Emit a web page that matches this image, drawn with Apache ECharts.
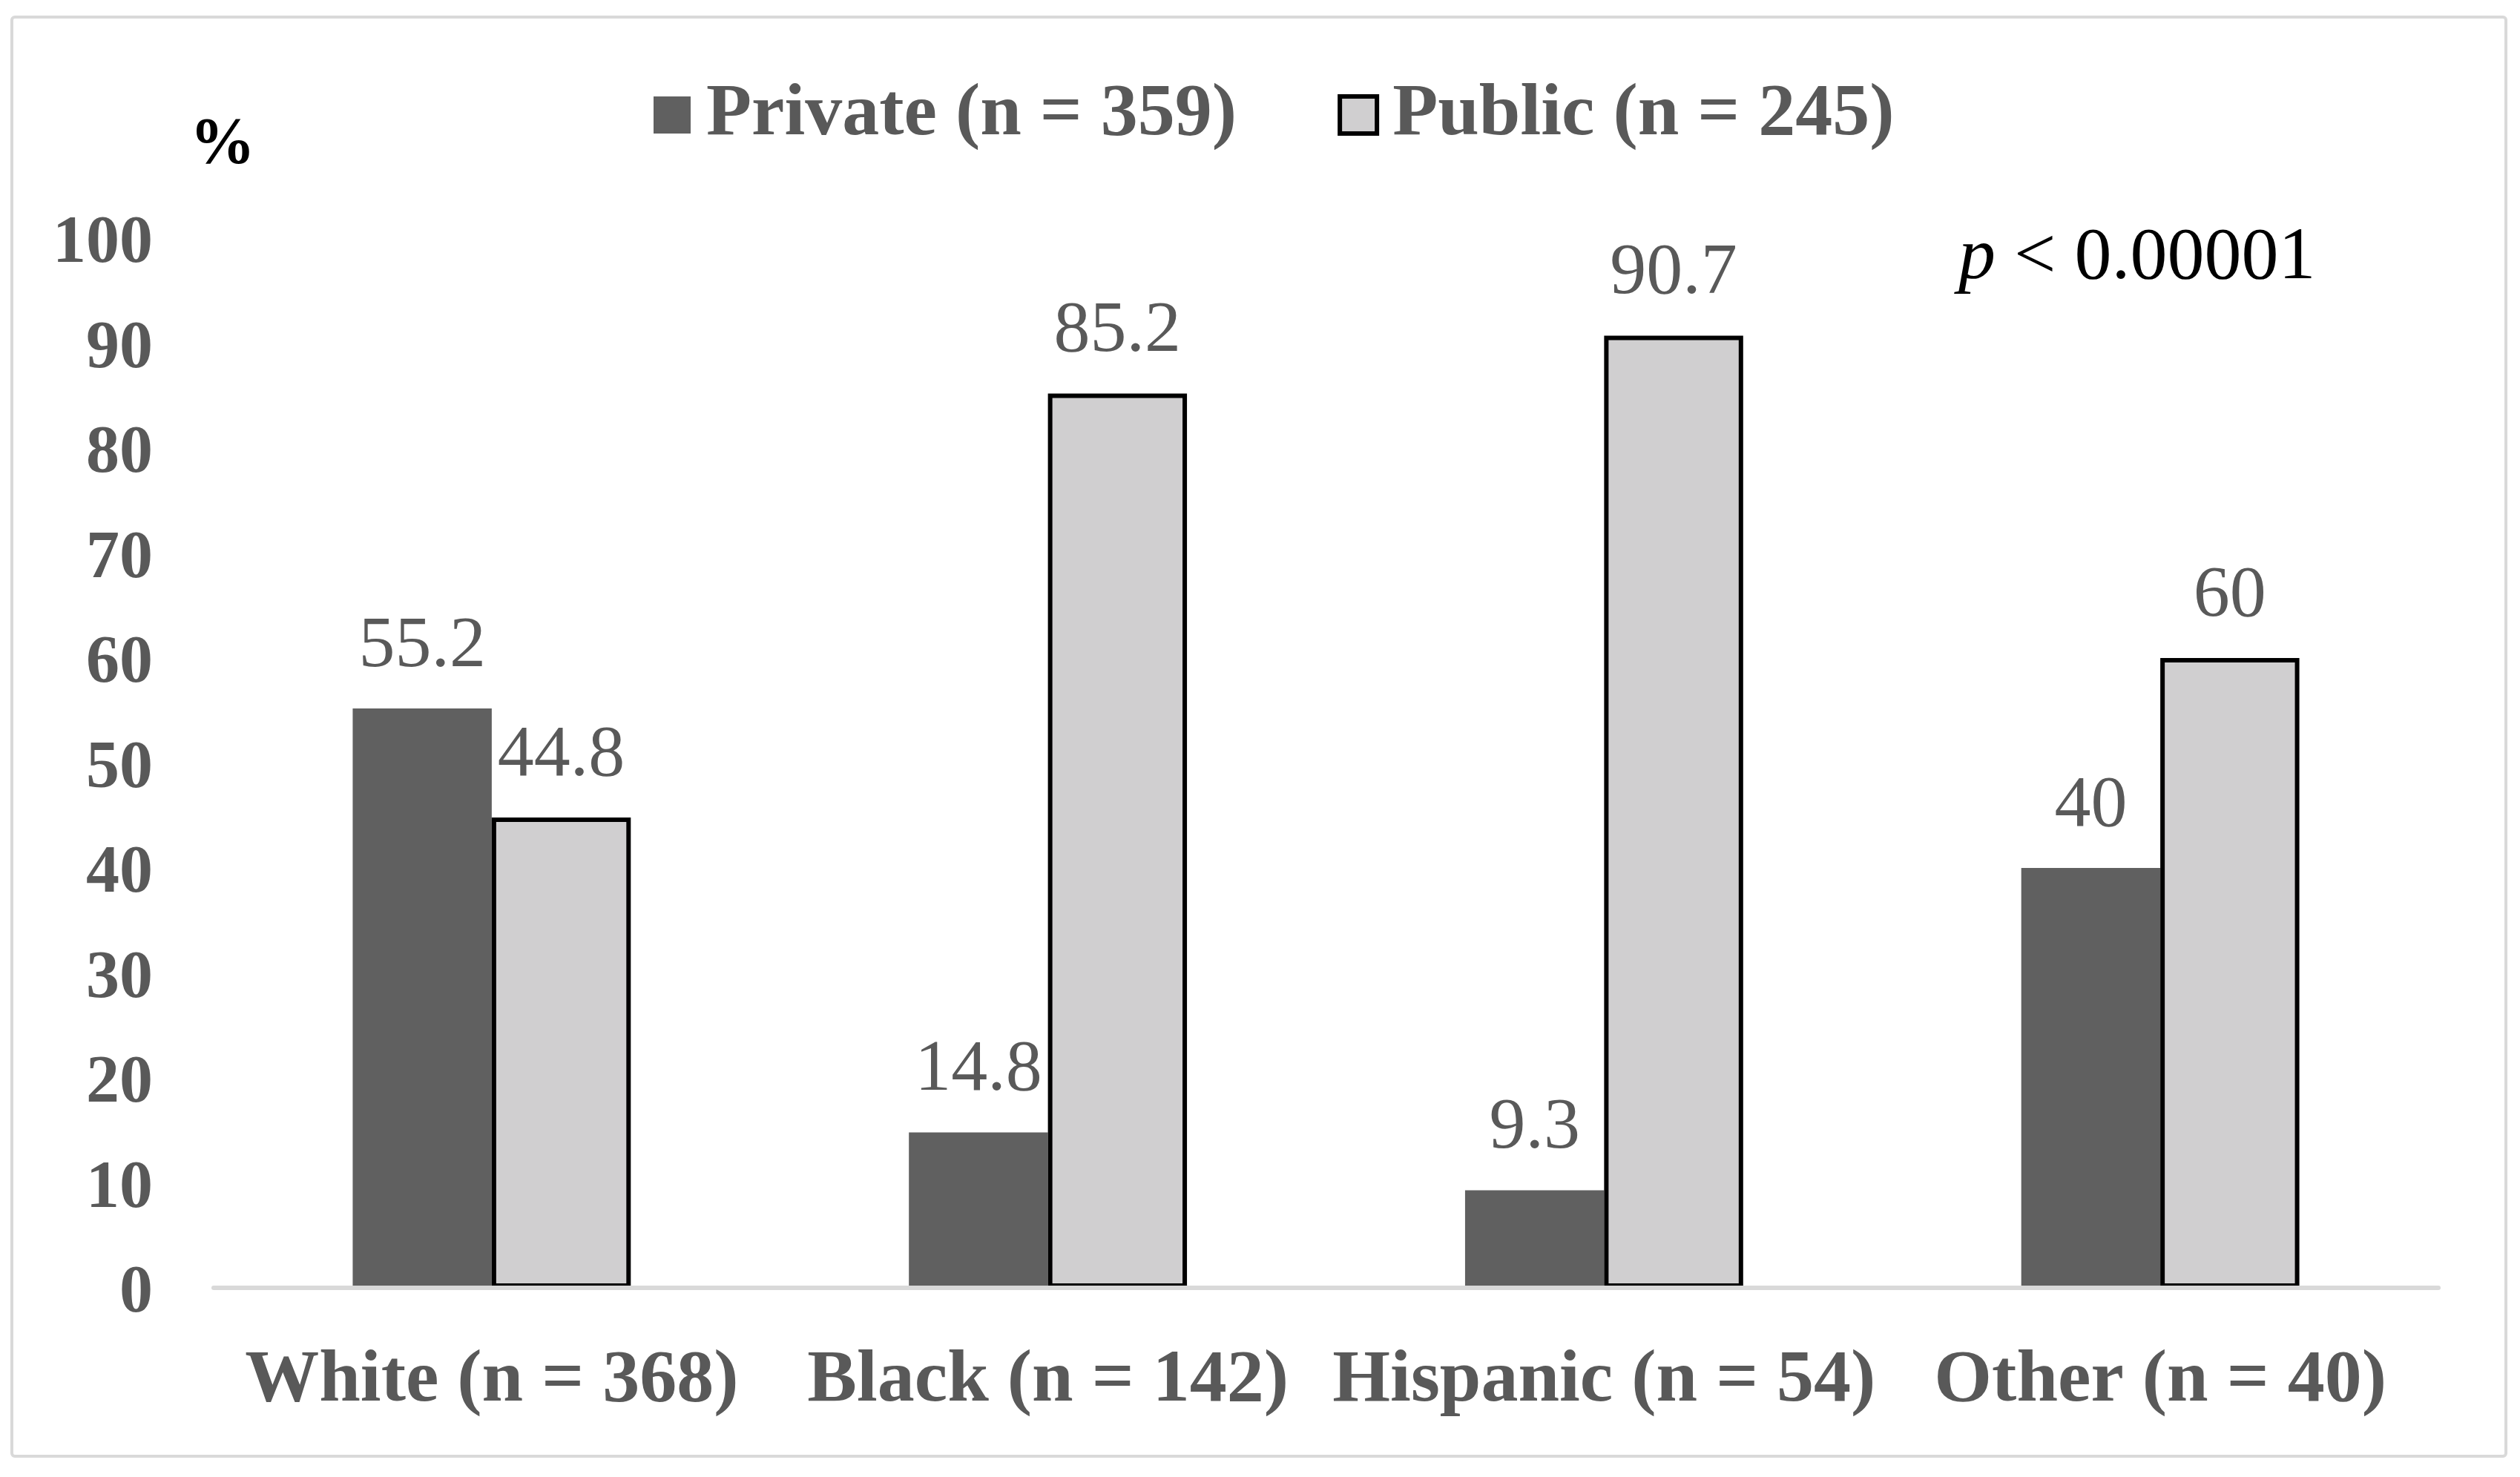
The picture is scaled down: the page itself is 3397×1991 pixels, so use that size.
<!DOCTYPE html>
<html>
<head>
<meta charset="utf-8">
<script src="https://cdn.jsdelivr.net/npm/echarts@6/dist/echarts.min.js"></script>
<style>
html,body{margin:0;padding:0;background:#fff;}
#chart{width:3397px;height:1991px;}
</style>
</head>
<body>
<div id="chart"></div>
<script>
var categories = ['White (n = 368)', 'Black (n = 142)', 'Hispanic (n = 54)', 'Other (n = 40)'];
var seriesNames = ['Private (n = 359)', 'Public (n = 245)'];
var privateValues = [55.2, 14.8, 9.3, 40];
var publicValues = [44.8, 85.2, 90.7, 60];
var yUnit = '%';
var pValueText = 'p < 0.00001';

var FONT = '"Liberation Serif", "Times New Roman", serif';
var chart = echarts.init(document.getElementById('chart'), null, {renderer: 'canvas'});

var option = {
  backgroundColor: '#ffffff',
  animation: false,
  grid: {left: 288, right: 110, top: 321, bottom: 255, containLabel: false},
  legend: {
    left: 881,
    top: 105,
    padding: 0,
    icon: 'rect',
    itemWidth: 50,
    itemHeight: 50,
    itemGap: 136,
    textStyle: {
      fontFamily: FONT, fontSize: 100, fontWeight: 'bold', color: '#595959',
      padding: [0, 0, 0, 16]
    },
    data: [
      {name: seriesNames[0], itemStyle: {color: '#606060', borderWidth: 0}},
      {name: seriesNames[1], itemStyle: {color: '#d0cfd0', borderColor: '#000000', borderWidth: 6}}
    ]
  },
  xAxis: {
    type: 'category',
    data: categories,
    z: 3,
    axisLine: {show: true, lineStyle: {color: '#d9d9d9', width: 6}},
    axisTick: {show: false},
    axisLabel: {
      margin: 76, interval: 0,
      fontFamily: FONT, fontSize: 100, fontWeight: 'bold', color: '#595959'
    },
    splitLine: {show: false}
  },
  yAxis: {
    type: 'value',
    min: 0, max: 100, interval: 10,
    axisLine: {show: false},
    axisTick: {show: false},
    splitLine: {show: false},
    axisLabel: {
      margin: 82,
      formatter: '{a|{value}}',
      rich: {
        a: {
          fontFamily: FONT, fontSize: 90, fontWeight: 'bold', color: '#595959',
          padding: [18, 0, 0, 0]
        }
      }
    }
  },
  series: [
    {
      name: seriesNames[0],
      type: 'bar',
      data: privateValues,
      barWidth: '25%',
      barGap: '0%',
      itemStyle: {color: '#606060'},
      label: {
        show: true, position: 'top', distance: 34,
        fontFamily: FONT, fontSize: 98, color: '#595959'
      }
    },
    {
      name: seriesNames[1],
      type: 'bar',
      data: publicValues,
      barWidth: '25%',
      barGap: '0%',
      itemStyle: {color: '#d0cfd0', borderColor: '#000000', borderWidth: 6},
      label: {
        show: true, position: 'top', distance: 34,
        fontFamily: FONT, fontSize: 98, color: '#595959'
      }
    }
  ],
  graphic: [
    {
      type: 'rect',
      shape: {x: 16, y: 23, width: 3362, height: 1940, r: 4},
      style: {fill: 'none', stroke: '#d9d9d9', lineWidth: 4},
      z: -1, silent: true
    },
    {
      type: 'text',
      x: 300, y: 196,
      style: {
        text: yUnit, fontFamily: FONT, fontSize: 88, fontWeight: 'bold',
        fill: '#000000', align: 'center', verticalAlign: 'middle'
      }
    },
    {
      type: 'text',
      x: 2640, y: 349,
      style: {
        text: '{i|p}{n|' + pValueText.slice(1) + '}',
        align: 'left', verticalAlign: 'middle',
        rich: {
          i: {fontFamily: FONT, fontSize: 100, fontStyle: 'italic', fill: '#000000', color: '#000000'},
          n: {fontFamily: FONT, fontSize: 100, fill: '#000000', color: '#000000'}
        }
      }
    }
  ]
};
chart.setOption(option);
</script>
</body>
</html>
